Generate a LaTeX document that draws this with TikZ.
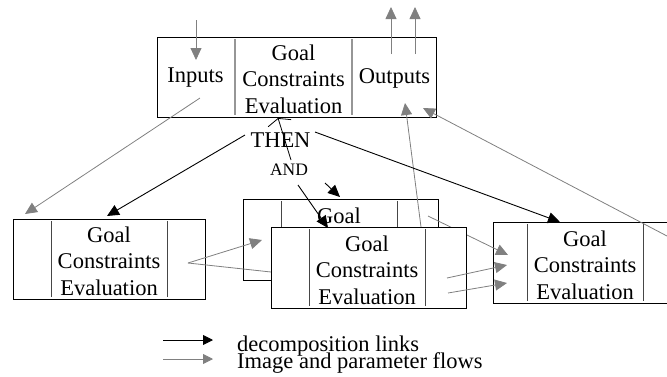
\documentclass[tikz,border=0pt]{standalone}
\usepackage{fontspec}
\setmainfont{Liberation Serif}
\usetikzlibrary{arrows.meta}
\definecolor{flowgray}{RGB}{128,128,128}
\definecolor{divgray}{RGB}{150,150,150}
\definecolor{divdark}{RGB}{70,70,70}
\begin{document}
\begin{tikzpicture}[x=1pt,y=-1pt,
  box/.style={draw=black,fill=white,line width=0.9pt,inner sep=0pt,outer sep=0pt,anchor=north west,minimum height=80pt},
  txt/.style={inner sep=0pt,align=center,font=\fontsize{22.5}{26.5}\selectfont},
  andtxt/.style={inner sep=0pt,font=\fontsize{17.5}{20}\selectfont},
  legtxt/.style={inner sep=0pt,anchor=base west,font=\fontsize{22.5}{17}\selectfont},
  topdiv/.style={draw=divgray,line width=1.2pt},
  div/.style={draw=divdark,line width=0.8pt},
  flow/.style={draw=flowgray,line width=0.8pt,-{Triangle[length=12pt,width=11pt]},flowgray},
  flowplain/.style={draw=flowgray,line width=0.8pt},
  decomp/.style={draw=black,line width=0.9pt,-{Triangle[length=12pt,width=11pt]}},
  barb/.style={draw=black,line width=0.8pt,-{Straight Barb[length=5pt,width=24pt]}}]
\useasboundingbox (0,0) rectangle (667,376);

% ---- top box ----
\node[box,minimum width=279pt] (top) at (157,37) {};
\draw[topdiv] (235,39) -- (235,115);
\draw[topdiv] (352,39) -- (352,115);
\node[txt] (topin) at (195.5,78) {Inputs};
\node[txt] (topgoal) at (293.5,79) {Goal\\Constraints\\Evaluation};
\node[txt] (topout) at (394.5,78) {Outputs};

% ---- left box ----
\node[box,minimum width=192pt] (left) at (13,219) {};
\draw[div] (51,221) -- (51,297);
\draw[div] (167,221) -- (167,297);
\node[txt] (leftgoal) at (109,261) {Goal\\Constraints\\Evaluation};

% ---- right box ----
\node[box,minimum width=188pt,minimum height=81pt] (right) at (493,222) {};
\draw[div] (527,224) -- (527,301);
\draw[div] (643,224) -- (643,301);
\node[txt] (rightgoal) at (585,265) {Goal\\Constraints\\Evaluation};

% ---- back middle box ----
\node[box,minimum width=195pt,minimum height=81pt] (back) at (243,199) {};
\draw[div] (281,201) -- (281,278);
\draw[div] (397,201) -- (397,278);
\node[txt] (backgoal) at (339,242) {Goal\\Constraints\\Evaluation};

% coordinates for free ends
\coordinate (inA) at (196,20);
\coordinate (inB) at (196,60);
\coordinate (outA1) at (391,54);
\coordinate (outB1) at (391,7);
\coordinate (outA2) at (415,54);
\coordinate (outB2) at (415,7);
\coordinate (inS) at (200,98);
\coordinate (leftT) at (25,214);
\coordinate (leftR) at (188,263);
\coordinate (backL) at (262,240);
\coordinate (frontL) at (271,272);
\coordinate (backR) at (428,216);
\coordinate (rightL1) at (508,255);
\coordinate (frontR1) at (447,278);
\coordinate (rightL2) at (507,265);
\coordinate (frontR2) at (448,293);
\coordinate (rightL3) at (507,283);
\coordinate (frontT) at (421,227);
\coordinate (outT1) at (405,103);
\coordinate (rightR) at (667,236);
\coordinate (outT2) at (423,108);

% flows under the front box
\draw[flow] (backR) -- (rightL1);
\draw[flowplain] (leftR) -- (frontL);
\draw[flow] (leftR) -- (backL);

% ---- front middle box ----
\node[box,minimum width=195pt,minimum height=81pt] (front) at (271,227) {};
\draw[div] (309,229) -- (309,306);
\draw[div] (425,229) -- (425,306);
\node[txt] (frontgoal) at (367,270) {Goal\\Constraints\\Evaluation};

% ---- other flows ----
\draw[flow] (inA) -- (inB);
\draw[flow] (outA1) -- (outB1);
\draw[flow] (outA2) -- (outB2);
\draw[flow] (inS) -- (leftT);
\draw[flow] (frontT) -- (outT1);
\draw[flow] (rightR) -- (outT2);
\draw[flow] (frontR1) -- (rightL2);
\draw[flow] (frontR2) -- (rightL3);

% ---- decomposition ----
\node[txt] (then) at (280.5,140) {THEN};
\node[andtxt] (and) at (289,170) {AND};
\coordinate (thenL) at (245,135);
\coordinate (thenR) at (315,132);
\coordinate (leftTop) at (107,216);
\coordinate (rightTop) at (560,222);
\coordinate (andUp) at (291,160);
\coordinate (topBot) at (278,118);
\coordinate (andA) at (325,183);
\coordinate (backTop) at (340,197);
\coordinate (andB) at (298,185);
\coordinate (frontTop) at (328,228);
\draw[decomp] (thenL) -- (leftTop);
\draw[decomp] (thenR) -- (rightTop);
\draw[barb] (andUp) -- (topBot);
\draw[decomp] (andA) -- (backTop);
\draw[decomp] (andB) -- (frontTop);

% ---- legend ----
\coordinate (lgA1) at (163,340);
\coordinate (lgB1) at (213,340);
\coordinate (lgA2) at (163,359);
\coordinate (lgB2) at (213,359);
\draw[decomp,-{Triangle[length=10pt,width=10pt]}] (lgA1) -- (lgB1);
\draw[flow,-{Triangle[length=10pt,width=10pt]}] (lgA2) -- (lgB2);
\node[legtxt] (lg1) at (237,351) {decomposition links};
\node[legtxt] (lg2) at (237,368) {Image and parameter flows};
\end{tikzpicture}
\end{document}
